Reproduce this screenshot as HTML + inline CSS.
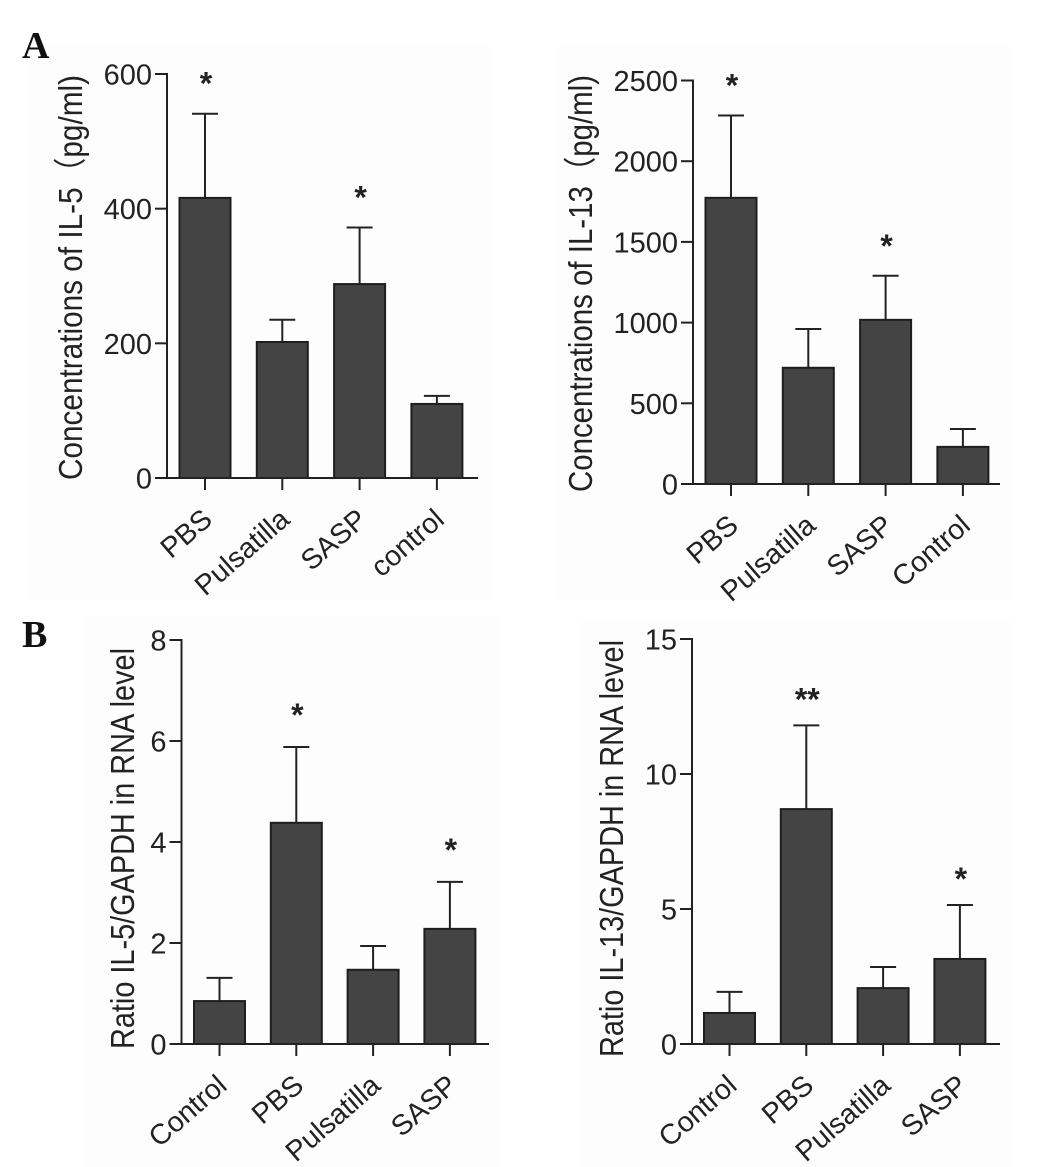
<!DOCTYPE html>
<html lang="en">
<head>
<meta charset="utf-8">
<title>IL-5 and IL-13 bar charts</title>
<style>
  html, body { margin: 0; padding: 0; background: #fff; }
  svg { display: block; }
  text { font-family: "Liberation Sans", "Noto Sans CJK SC", sans-serif; fill: #222; }
  .letter { font-family: "Liberation Serif", serif; font-weight: bold; font-size: 38px; fill: #111; }
</style>
</head>
<body>
<svg id="figure" width="1045" height="1167" viewBox="0 0 1045 1167" xmlns="http://www.w3.org/2000/svg">
  <rect x="30" y="45" width="460" height="555" fill="#fdfdfd"/>
  <rect x="558" y="45" width="452" height="555" fill="#fdfdfd"/>
  <rect x="86" y="615" width="412" height="552" fill="#fdfdfd"/>
  <rect x="582" y="620" width="430" height="547" fill="#fdfdfd"/>
  <text class="letter" x="22" y="58">A</text>
  <text class="letter" x="22" y="647">B</text>
</svg>
<script>
const il5ProteinCategories = ["PBS", "Pulsatilla", "SASP", "control"];
const il5ProteinMeans = [416, 202, 288, 110];
const il5ProteinErrorTops = [541, 235, 372, 122];
const il5ProteinTicks = [0, 200, 400, 600];
const il5ProteinStars = ["*", "", "*", ""];

const il13ProteinCategories = ["PBS", "Pulsatilla", "SASP", "Control"];
const il13ProteinMeans = [1773, 720, 1017, 230];
const il13ProteinErrorTops = [2283, 960, 1290, 341];
const il13ProteinTicks = [0, 500, 1000, 1500, 2000, 2500];
const il13ProteinStars = ["*", "", "*", ""];

const il5RnaCategories = ["Control", "PBS", "Pulsatilla", "SASP"];
const il5RnaMeans = [0.85, 4.38, 1.47, 2.28];
const il5RnaErrorTops = [1.31, 5.88, 1.94, 3.21];
const il5RnaTicks = [0, 2, 4, 6, 8];
const il5RnaStars = ["", "*", "", "*"];

const il13RnaCategories = ["Control", "PBS", "Pulsatilla", "SASP"];
const il13RnaMeans = [1.15, 8.7, 2.07, 3.15];
const il13RnaErrorTops = [1.93, 11.8, 2.85, 5.15];
const il13RnaTicks = [0, 5, 10, 15];
const il13RnaStars = ["", "**", "", "*"];

const NS = "http://www.w3.org/2000/svg";
const figure = document.getElementById("figure");

function addNode(parent, tag, attrs, content) {
  const el = document.createElementNS(NS, tag);
  for (const k in attrs) el.setAttribute(k, attrs[k]);
  if (content !== undefined) el.textContent = content;
  parent.appendChild(el);
  return el;
}

function drawPanel(p) {
  const g = document.createElementNS(NS, "g");
  
  
  figure.appendChild(g);

  const axisMax = p.ticks[p.ticks.length - 1];
  const yScale = v => p.y0 - (v / axisMax) * (p.y0 - p.yTop);
  const xScale = i => p.firstCenter + i * p.step;
  const ink = "#222";

  p.means.forEach((m, i) => {
    const cx = xScale(i);
    const top = yScale(p.errorTops[i]);

    const stem = addNode(g, "line", { x1: cx, x2: cx, y1: top, y2: yScale(m), stroke: ink, "stroke-width": 2 });
    
    

    const cap = addNode(g, "line", { x1: cx - 13, x2: cx + 13, y1: top, y2: top, stroke: ink, "stroke-width": 2 });
    
    

    const bar = addNode(g, "rect", { x: cx - 25.5, y: yScale(m), width: 51, height: p.y0 - yScale(m), fill: "#444", stroke: "#1e1e1e", "stroke-width": 2 });
    
    

    const tick = addNode(g, "line", { x1: cx, x2: cx, y1: p.y0, y2: p.y0 + 12, stroke: ink, "stroke-width": 2 });
    
    

    const lx = cx + 9, ly = p.y0 + 44;
    const label = addNode(g, "text", { x: lx, y: ly, "text-anchor": "end", "font-size": 28.5, transform: "rotate(-41 " + lx + " " + ly + ")" }, p.categories[i]);
    
    

    if (p.stars[i]) {
      const star = addNode(g, "text", { x: cx + 1, y: top - p.starGap + 16, "text-anchor": "middle", "font-size": 32, "font-weight": "bold" }, p.stars[i]);
      
      
    }
  });

  const yAxis = addNode(g, "line", { x1: p.xAxis, x2: p.xAxis, y1: p.yTop - 1, y2: p.y0 + 1, stroke: ink, "stroke-width": 2 });
  
  

  const xAxis = addNode(g, "line", { x1: p.xAxis - 12, x2: p.xEnd, y1: p.y0, y2: p.y0, stroke: ink, "stroke-width": 2 });
  
  

  p.ticks.forEach(t => {
    const y = yScale(t);
    const tick = addNode(g, "line", { x1: p.xAxis - 12, x2: p.xAxis, y1: y, y2: y, stroke: ink, "stroke-width": 2 });
    
    

    const label = addNode(g, "text", { x: p.xAxis - 15, y: y + 10.5, "text-anchor": "end", "font-size": 29 }, String(t));
    
    
  });

  const title = addNode(g, "text", {
    x: p.titleX, y: p.titleY, "font-size": 33, textLength: p.titleLen, lengthAdjust: "spacingAndGlyphs",
    transform: "rotate(-90 " + p.titleX + " " + p.titleY + ")"
  }, p.title);
  
  
}

drawPanel({ name: "chart-il5-protein", categories: il5ProteinCategories, means: il5ProteinMeans, errorTops: il5ProteinErrorTops, ticks: il5ProteinTicks, stars: il5ProteinStars,
  xAxis: 167, xEnd: 478, y0: 478, yTop: 74, firstCenter: 205, step: 77.3, starGap: 35,
  title: "Concentrations of IL-5（pg/ml)", titleX: 82, titleY: 480, titleLen: 405 });

drawPanel({ name: "chart-il13-protein", categories: il13ProteinCategories, means: il13ProteinMeans, errorTops: il13ProteinErrorTops, ticks: il13ProteinTicks, stars: il13ProteinStars,
  xAxis: 693, xEnd: 1000, y0: 484, yTop: 80.5, firstCenter: 731, step: 77.3, starGap: 35,
  title: "Concentrations of IL-13（pg/ml)", titleX: 592, titleY: 492, titleLen: 417 });

drawPanel({ name: "chart-il5-rna", categories: il5RnaCategories, means: il5RnaMeans, errorTops: il5RnaErrorTops, ticks: il5RnaTicks, stars: il5RnaStars,
  xAxis: 181.5, xEnd: 489, y0: 1044, yTop: 640, firstCenter: 219.5, step: 76.8, starGap: 37,
  title: "Ratio IL-5/GAPDH in RNA level", titleX: 134, titleY: 1049, titleLen: 401 });

drawPanel({ name: "chart-il13-rna", categories: il13RnaCategories, means: il13RnaMeans, errorTops: il13RnaErrorTops, ticks: il13RnaTicks, stars: il13RnaStars,
  xAxis: 692, xEnd: 1000, y0: 1044, yTop: 639, firstCenter: 729.5, step: 76.8, starGap: 31,
  title: "Ratio IL-13/GAPDH in RNA level", titleX: 623, titleY: 1057, titleLen: 417 });
</script>
</body>
</html>
